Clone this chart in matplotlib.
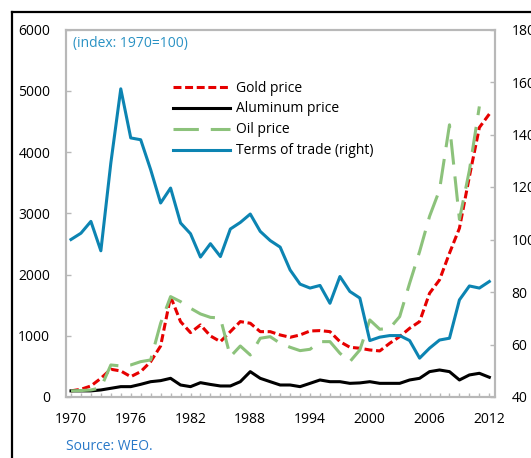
import numpy as np
import matplotlib
matplotlib.use("Agg")
import matplotlib.pyplot as plt
from matplotlib.lines import Line2D

plt.rcParams['font.family'] = ['Open Sans', 'DejaVu Sans']

years = np.arange(1970, 2013)

# index 1970=100, left axis
gold = [100, 126, 180, 305, 453, 425, 332, 414, 577, 833,
        1639, 1231, 1051, 1177, 997, 904, 1067, 1231, 1204, 1067,
        1067, 1013, 975, 1013, 1078, 1084, 1067, 904, 812, 796,
        768, 752, 877, 986, 1122, 1231, 1694, 1912, 2348, 2756,
        3600, 4400, 4620]
aluminum = [100, 100, 100, 115, 142, 169, 169, 207, 250, 267,
            305, 196, 169, 234, 205, 180, 180, 250, 414, 305,
            250, 196, 196, 169, 223, 278, 250, 250, 223, 230,
            250, 223, 223, 223, 278, 305, 414, 441, 414, 278,
            360, 387, 322]
oil_years = np.arange(1970, 2012)
oil = [100, 105, 115, 150, 523, 507, 523, 577, 605, 1204,
       1639, 1557, 1449, 1356, 1300, 1290, 658, 833, 686, 959,
       985, 877, 812, 757, 779, 904, 904, 714, 577, 768,
       1258, 1106, 1122, 1312, 1858, 2374, 2950, 3380, 4444, 2900,
       3700, 4744]
# right axis
tot = [100, 102.4, 106.9, 95.7, 129.1, 157.4, 138.7, 138.0, 126.6, 113.9,
       119.6, 106.3, 102.2, 93.3, 98.4, 93.5, 104.0, 106.5, 109.7, 103.1,
       99.6, 97.1, 88.4, 83.0, 81.5, 82.5, 75.7, 85.9, 80.2, 77.7,
       61.5, 62.8, 63.4, 63.4, 61.5, 54.8, 58.6, 61.7, 62.4, 77.0,
       82.3, 81.5, 84.0]

W, H = 531, 458
fig = plt.figure(figsize=(W / 100, H / 100), dpi=100)
ax = fig.add_axes([65.5 / W, 1 - 397 / H, (495 - 65.5) / W, (397 - 29.5) / H])
ax2 = ax.twinx()

red, green, blue = '#e60000', '#8cc27b', '#0c84b2'
lw = 2.2
l1, = ax.plot(years, gold, color=red, lw=lw, dashes=(2.6, 1.2), label='Gold price')
l2, = ax.plot(years, aluminum, color='black', lw=lw, label='Aluminum price')
l3, = ax.plot(oil_years, oil, color=green, lw=lw, dashes=(8.3, 3.9), label='Oil price')
l4, = ax2.plot(years, tot, color=blue, lw=lw, label='Terms of trade (right)')

ax.set_xlim(1969.45, 2012.57)
ax.set_ylim(0, 6000)
ax2.set_ylim(40, 180)
ax.set_yticks(range(0, 6001, 1000))
ax2.set_yticks(range(40, 181, 20))
ax.set_xticks(range(1970, 2013, 6))
ax.set_xticks(years, minor=True)

spine_c = '#b8b8b8'
for a in (ax, ax2):
    for s in a.spines.values():
        s.set_color(spine_c)
        s.set_linewidth(1.5)
ax.tick_params(axis='x', which='both', direction='in', length=3, width=1, color=spine_c,
               pad=11, labelsize=10)
ax.tick_params(axis='y', direction='in', length=3.5, width=1, color=spine_c, pad=11, labelsize=10)
ax2.tick_params(axis='y', direction='in', length=3.5, width=1, color=spine_c, pad=12, labelsize=10)

fig.legend(handles=[l1, l2, l3, l4], loc='upper left', bbox_to_anchor=(173 / W, 1 - 80.5 / H),
           frameon=False, fontsize=10, handlelength=4.1, handletextpad=0.43,
           borderpad=0, borderaxespad=0, labelspacing=0.43)

fig.text(73 / W, 1 - 43.5 / H, '(index: 1970=100)', color='#2a92c4', fontsize=10, va='center')
fig.text(66 / W, 1 - 446 / H, 'Source: WEO.', color='#2878c8', fontsize=10, va='center')

# outer frame (left and top edges visible)
fx, fy = 12 / W, 1 - 12 / H
fig.add_artist(Line2D([fx, fx], [0, fy], color='black', lw=1.6))
fig.add_artist(Line2D([fx, 1], [fy, fy], color='black', lw=1.6))

fig.savefig('out.png', dpi=100)
